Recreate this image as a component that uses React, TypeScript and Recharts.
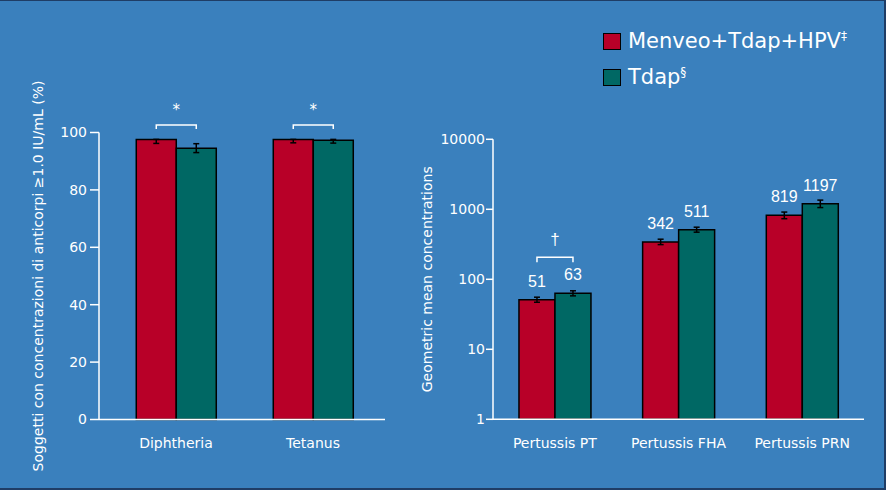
import { Bar, BarChart, ErrorBar, LabelList, XAxis, YAxis } from "recharts";

// left panel: diphtheria / tetanus seroprotection (%)
const TOXOID_CATEGORIES = ["Diphtheria", "Tetanus"];
const TOXOID_MENVEO = [97.6, 97.6];
const TOXOID_MENVEO_ERR = [
  [1.4, 0],
  [1.2, 0],
];
const TOXOID_TDAP = [94.5, 97.3];
const TOXOID_TDAP_ERR = [
  [1.5, 1.6],
  [1.0, 0.3],
];
const TOXOID_SIG = ["*", "*"];
const TOXOID_TICKS = [0, 20, 40, 60, 80, 100];
// bracket height, in % units
const TOXOID_BRACKET = { top: 102.6, leg: 101.2 };

// right panel: pertussis GMCs (log scale)
const PERTUSSIS_CATEGORIES = ["Pertussis PT", "Pertussis FHA", "Pertussis PRN"];
const PERTUSSIS_MENVEO = [51, 342, 819];
const PERTUSSIS_MENVEO_ERR = [
  [4, 4.5],
  [29, 32],
  [85, 94],
];
const PERTUSSIS_TDAP = [63, 511, 1197];
const PERTUSSIS_TDAP_ERR = [
  [5, 5.5],
  [40, 44],
  [138, 156],
];
const PERTUSSIS_SIG = ["†", "", ""];
const PERTUSSIS_TICKS = [1, 10, 100, 1000, 10000];
const PERTUSSIS_BRACKET = { top: 206, leg: 175 };

const LEGEND = [
  { label: "Menveo+Tdap+HPV", mark: "‡" },
  { label: "Tdap", mark: "§" },
];

const FONT = "'DejaVu Sans', Verdana, sans-serif";
const NUM_FONT = "'Liberation Sans', Arial, sans-serif";
const BG = "#3a80bd";
const RED = "#b80028";
const TEAL = "#006864";
const WHITE = "#ffffff";

const toxoidData = TOXOID_CATEGORIES.map((name, i) => ({
  name,
  menveo: TOXOID_MENVEO[i],
  menveoErr: TOXOID_MENVEO_ERR[i],
  tdap: TOXOID_TDAP[i],
  tdapErr: TOXOID_TDAP_ERR[i],
  sig: TOXOID_SIG[i],
}));

const pertussisData = PERTUSSIS_CATEGORIES.map((name, i) => ({
  name,
  menveo: PERTUSSIS_MENVEO[i],
  menveoErr: PERTUSSIS_MENVEO_ERR[i],
  tdap: PERTUSSIS_TDAP[i],
  tdapErr: PERTUSSIS_TDAP_ERR[i],
  sig: PERTUSSIS_SIG[i],
}));

/**
 * Significance bracket drawn from the red bar's centre to the teal bar's centre.
 * The bar's own geometry gives the y scale (linear from 0, or log from 1).
 */
function makeBracket(opts: {
  series: number[];
  log: boolean;
  top: number;
  leg: number;
  markFont: string;
  markSize: number;
  markGap: number;
}) {
  return (props: any) => {
    const { value, index } = props;
    if (!value) return null;
    const vb = props.viewBox ?? props;
    const { x, y, width, height } = vb;
    const v = opts.series[index];
    const base = y + height;
    const yOf = (u: number) =>
      opts.log ? base - (Math.log10(u) / Math.log10(v)) * height : base - (u / v) * height;
    const x1 = x + width / 2;
    const x2 = x + width * 1.5;
    const yt = yOf(opts.top);
    const yl = yOf(opts.leg);
    return (
      <g key={`sig-${index}`}>
        <path
          d={`M${x1},${yl}L${x1},${yt}L${x2},${yt}L${x2},${yl}`}
          fill="none"
          stroke={WHITE}
          strokeWidth={1.5}
        />
        <text
          x={(x1 + x2) / 2}
          y={yt - opts.markGap}
          textAnchor="middle"
          fill={WHITE}
          fontSize={opts.markSize}
          fontFamily={opts.markFont}
        >
          {value}
        </text>
      </g>
    );
  };
}

const tickStyle = { fill: WHITE, fontSize: 14, fontFamily: FONT };
const axisStroke = { stroke: WHITE, strokeWidth: 1.5 };

function ToxoidChart() {
  return (
    <BarChart
      width={400}
      height={490}
      data={toxoidData}
      margin={{ top: 132.5, right: 15, bottom: 40.5, left: 39 }}
      barCategoryGap="21%"
      barGap={0}
    >
      <XAxis
        dataKey="name"
        height={30}
        padding={{ left: 8.5, right: 3.5 }}
        tick={tickStyle}
        tickLine={false}
        tickSize={6}
        tickMargin={13}
        axisLine={axisStroke}
      />
      <YAxis
        width={60}
        type="number"
        domain={[0, 100]}
        ticks={TOXOID_TICKS}
        tick={tickStyle}
        tickLine={axisStroke}
        tickSize={9}
        tickMargin={3}
        axisLine={axisStroke}
        label={{
          value: "Soggetti con concentrazioni di anticorpi ≥1.0 IU/mL (%)",
          angle: -90,
          position: "center",
          dx: -31,
          style: { fill: WHITE, fontSize: 14, fontFamily: FONT },
        }}
      />
      <Bar dataKey="menveo" fill={RED} stroke="#000" strokeWidth={1.5} isAnimationActive={false}>
        <ErrorBar dataKey="menveoErr" direction="y" width={3} stroke="#000" strokeWidth={1.5} />
        <LabelList
          dataKey="sig"
          content={makeBracket({
            series: TOXOID_MENVEO,
            log: false,
            top: TOXOID_BRACKET.top,
            leg: TOXOID_BRACKET.leg,
            markFont: FONT,
            markSize: 15,
            markGap: 10,
          })}
        />
      </Bar>
      <Bar dataKey="tdap" fill={TEAL} stroke="#000" strokeWidth={1.5} isAnimationActive={false}>
        <ErrorBar dataKey="tdapErr" direction="y" width={3} stroke="#000" strokeWidth={1.5} />
      </Bar>
    </BarChart>
  );
}

const valueLabelStyle = { fill: WHITE, fontSize: 16, fontFamily: NUM_FONT };

function PertussisChart() {
  return (
    <BarChart
      width={486}
      height={490}
      data={pertussisData}
      margin={{ top: 139.3, right: 22, bottom: 40.7, left: 33 }}
      barCategoryGap="21%"
      barGap={0}
    >
      <XAxis
        dataKey="name"
        height={30}
        tick={tickStyle}
        tickLine={false}
        tickSize={6}
        tickMargin={13}
        axisLine={axisStroke}
      />
      <YAxis
        width={60}
        type="number"
        scale="log"
        domain={[1, 10000]}
        allowDataOverflow
        ticks={PERTUSSIS_TICKS}
        tick={tickStyle}
        tickLine={axisStroke}
        tickSize={7}
        tickMargin={1}
        axisLine={axisStroke}
        label={{
          value: "Geometric mean concentrations",
          angle: -90,
          position: "center",
          dx: -36,
          style: { fill: WHITE, fontSize: 14, fontFamily: FONT },
        }}
      />
      <Bar dataKey="menveo" fill={RED} stroke="#000" strokeWidth={1.5} isAnimationActive={false}>
        <ErrorBar dataKey="menveoErr" direction="y" width={3} stroke="#000" strokeWidth={1.5} />
        <LabelList dataKey="menveo" position="top" offset={13} style={valueLabelStyle} />
        <LabelList
          dataKey="sig"
          content={makeBracket({
            series: PERTUSSIS_MENVEO,
            log: true,
            top: PERTUSSIS_BRACKET.top,
            leg: PERTUSSIS_BRACKET.leg,
            markFont: NUM_FONT,
            markSize: 17,
            markGap: 12,
          })}
        />
      </Bar>
      <Bar dataKey="tdap" fill={TEAL} stroke="#000" strokeWidth={1.5} isAnimationActive={false}>
        <ErrorBar dataKey="tdapErr" direction="y" width={3} stroke="#000" strokeWidth={1.5} />
        <LabelList dataKey="tdap" position="top" offset={13} style={valueLabelStyle} />
      </Bar>
    </BarChart>
  );
}

function ChartLegend() {
  const colors = [RED, TEAL];
  return (
    <div style={{ position: "absolute", left: 603, top: 30, fontFamily: FONT, color: WHITE }}>
      {LEGEND.map((item, i) => (
        <div key={item.label} style={{ display: "flex", alignItems: "center", height: 20, marginBottom: 16 }}>
          <div
            style={{
              width: 16,
              height: 15,
              background: colors[i],
              border: "1px solid #000",
              marginRight: 7,
            }}
          />
          <span style={{ fontSize: 21, lineHeight: 1, whiteSpace: "nowrap" }}>
            {item.label}
            <sup style={{ fontSize: 12, verticalAlign: "8px" }}>{item.mark}</sup>
          </span>
        </div>
      ))}
    </div>
  );
}

export default function App() {
  return (
    <div
      style={{
        position: "absolute",
        left: 0,
        top: 0,
        width: 886,
        height: 490,
        boxSizing: "border-box",
        background: BG,
        borderTop: "1px solid #1f3d66",
        borderRight: "2px solid #1f3d66",
        borderBottom: "2px solid #1f3d66",
        overflow: "hidden",
      }}
    >
      <div style={{ position: "absolute", left: 0, top: -1 }}>
        <ToxoidChart />
      </div>
      <div style={{ position: "absolute", left: 400, top: -1 }}>
        <PertussisChart />
      </div>
      <ChartLegend />
    </div>
  );
}
